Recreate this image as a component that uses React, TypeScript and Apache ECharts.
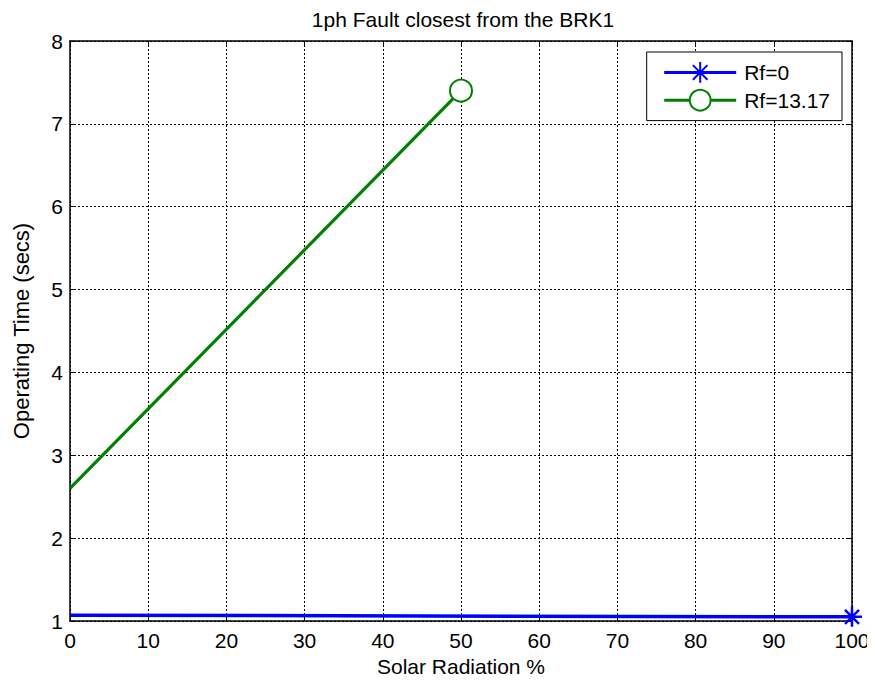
import React, { useEffect, useRef } from "react";
import * as echarts from "echarts";

// Solar radiation (%) vs relay operating time (s)
const rf0X = [0, 100];
const rf0Y = [1.07, 1.05];
const rf1317X = [0, 50];
const rf1317Y = [2.6, 7.4];
const xTicks = [0, 10, 20, 30, 40, 50, 60, 70, 80, 90, 100];
const yTicks = [1, 2, 3, 4, 5, 6, 7, 8];

const FONT = "Liberation Sans, Arial, sans-serif";
const ASTERISK = "path://M0,-10L0,10M-10,0L10,0M-7,-7L7,7M-7,7L7,-7";

// Only the last sample carries a marker
function withEndMarker(xs: number[], ys: number[]) {
  return xs.map((x, i) =>
    i === xs.length - 1 ? [x, ys[i]] : { value: [x, ys[i]], symbol: "none" }
  );
}

export default function App() {
  const ref = useRef<HTMLDivElement>(null);
  useEffect(() => {
    if (!ref.current) return;
    const chart = echarts.init(ref.current, null, { renderer: "svg" });
    const gridLine = { show: true, lineStyle: { color: "#000", type: [2, 2] as any, width: 1 } };
    const baseAxisLine = { show: true, onZero: false, lineStyle: { color: "#000", width: 1.5 } };
    const ticks = { show: true, inside: true, length: 6, lineStyle: { color: "#000" } };
    chart.setOption({
      animation: false,
      backgroundColor: "#fff",
      title: {
        text: "1ph Fault closest from the BRK1",
        left: 458,
        top: 4,
        textAlign: "center",
        textStyle: { fontFamily: FONT, fontSize: 21, fontWeight: "normal", color: "#000" },
      },
      grid: { left: 70, right: 23, top: 41, bottom: 61 },
      legend: {
        right: 33,
        top: 52,
        orient: "vertical",
        backgroundColor: "#fff",
        borderColor: "#000",
        borderWidth: 1,
        borderRadius: 0,
        padding: [9, 12, 9, 16],
        itemWidth: 72,
        itemHeight: 26,
        itemGap: 5,
        lineStyle: { width: 3 },
        textStyle: { fontFamily: FONT, fontSize: 21, color: "#000", padding: [0, 0, 0, 3] },
        data: ["Rf=0", "Rf=13.17"],
      },
      xAxis: [
        {
          type: "value",
          min: 0,
          max: 100,
          interval: 10,
          name: "Solar Radiation %",
          nameLocation: "middle",
          nameGap: 35,
          nameTextStyle: { fontFamily: FONT, fontSize: 21, color: "#000" },
          axisLine: baseAxisLine,
          axisTick: ticks,
          axisLabel: {
            fontFamily: FONT,
            fontSize: 21,
            color: "#000",
            margin: 9,
            formatter: (v: number) => (xTicks.includes(v) ? String(v) : ""),
          },
          splitLine: gridLine,
        },
        {
          type: "value",
          position: "top",
          min: 0,
          max: 100,
          interval: 10,
          axisLine: baseAxisLine,
          axisTick: ticks,
          axisLabel: { show: false },
          splitLine: { show: false },
        },
      ],
      yAxis: [
        {
          type: "value",
          min: 1,
          max: 8,
          interval: 1,
          name: "Operating Time (secs)",
          nameLocation: "middle",
          nameGap: 38,
          nameTextStyle: { fontFamily: FONT, fontSize: 22, color: "#000" },
          axisLine: baseAxisLine,
          axisTick: ticks,
          axisLabel: {
            fontFamily: FONT,
            fontSize: 21,
            color: "#000",
            margin: 7,
            formatter: (v: number) => (yTicks.includes(v) ? String(v) : ""),
          },
          splitLine: gridLine,
        },
        {
          type: "value",
          position: "right",
          min: 1,
          max: 8,
          interval: 1,
          axisLine: baseAxisLine,
          axisTick: ticks,
          axisLabel: { show: false },
          splitLine: { show: false },
        },
      ],
      series: [
        {
          name: "Rf=0",
          type: "line",
          data: withEndMarker(rf0X, rf0Y),
          symbol: ASTERISK,
          symbolSize: 20,
          showAllSymbol: true,
          lineStyle: { color: "#0000ff", width: 3.5 },
          itemStyle: { color: "#0000ff", borderColor: "#0000ff", borderWidth: 2.5 },
          z: 3,
        },
        {
          name: "Rf=13.17",
          type: "line",
          data: withEndMarker(rf1317X, rf1317Y),
          symbol: "emptyCircle",
          symbolSize: 22,
          showAllSymbol: true,
          lineStyle: { color: "#008000", width: 3.2 },
          itemStyle: { color: "#008000", borderColor: "#008000", borderWidth: 2.5 },
          z: 3,
        },
      ],
    });
    return () => chart.dispose();
  }, []);
  return <div ref={ref} style={{ width: 875, height: 682, margin: -8 }} />;
}
